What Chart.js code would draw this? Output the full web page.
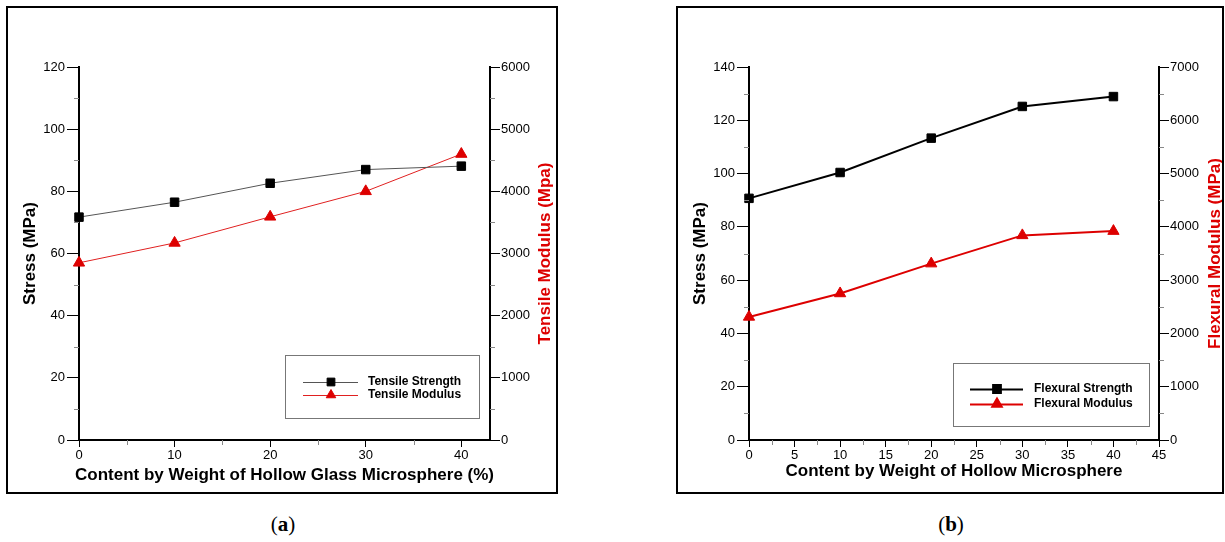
<!DOCTYPE html>
<html>
<head>
<meta charset="utf-8">
<script src="https://cdn.jsdelivr.net/npm/chart.js@4.4.1/dist/chart.umd.min.js"></script>
<style>
    body { margin: 0; background: #fff; width: 1225px; height: 542px; position: relative; overflow: hidden; }
    .frame { position: absolute; border: 2px solid #000; box-sizing: border-box; }
    canvas { position: absolute; }
    .cap { position: absolute; top: 512px; width: 60px; text-align: center; font-family: 'Liberation Serif', serif; font-size: 21px; color: #000; }
</style>
</head>
<body>
<div class="frame" style="left:6px; top:6px; width:552px; height:488px;"></div>
<div class="frame" style="left:676px; top:6px; width:548px; height:488px;"></div>
<canvas id="tensileChart" width="548" height="484" style="left:8px; top:8px;"></canvas>
<canvas id="flexuralChart" width="544" height="484" style="left:678px; top:8px;"></canvas>
<div class="cap" style="left:253px;">(<b>a</b>)</div>
<div class="cap" style="left:921px;">(<b>b</b>)</div>
<script>
// glass microsphere content (%)
const content = [0, 10, 20, 30, 40];

// (a) tensile test
const tensileStrength = [71.7, 76.5, 82.6, 87.0, 88.1];     // MPa, left axis
const tensileModulus = [2850, 3170, 3590, 4000, 4600];      // MPa, right axis

// (b) flexural test
const flexuralStrength = [90.7, 100.4, 113.3, 125.2, 128.9];
const flexuralModulus = [2310, 2750, 3310, 3840, 3920];

const RED = '#dd0000';
Chart.defaults.font.family = "'Liberation Sans', Arial, sans-serif";
Chart.defaults.font.size = 13;
Chart.defaults.color = '#000';

function toPoints(xs, ys) {
    return xs.map((x, i) => ({ x: x, y: ys[i] }));
}

// short grey ticks half way between the labelled ones
const minorTicks = {
    id: 'minorTicks',
    afterDraw(chart) {
        const ctx = chart.ctx;
        const area = chart.chartArea;
        ctx.save();
        ctx.strokeStyle = '#888';
        ctx.lineWidth = 1;
        Object.values(chart.scales).forEach(s => {
            const t = s.ticks;
            for (let i = 0; i < t.length - 1; i++) {
                const p = Math.round(s.getPixelForValue((t[i].value + t[i + 1].value) / 2)) + 0.5;
                ctx.beginPath();
                if (s.isHorizontal()) {
                    ctx.moveTo(p, area.bottom);
                    ctx.lineTo(p, area.bottom + 5);
                } else if (s.position === 'left') {
                    ctx.moveTo(area.left - 5, p);
                    ctx.lineTo(area.left, p);
                } else {
                    ctx.moveTo(area.right, p);
                    ctx.lineTo(area.right + 5, p);
                }
                ctx.stroke();
            }
        });
        ctx.restore();
    }
};

// axis titles, the right one reads bottom to top like the left one
const axisTitles = {
    id: 'axisTitles',
    afterDraw(chart, args, opts) {
        const ctx = chart.ctx;
        const area = chart.chartArea;
        ctx.save();
        ctx.font = "bold 17px 'Liberation Sans', Arial, sans-serif";
        ctx.textAlign = 'center';
        ctx.textBaseline = 'middle';
        const midY = (area.top + area.bottom) / 2;
        const sx = chart.scales.x, sy = chart.scales.y, sy1 = chart.scales.y1;

        ctx.fillStyle = '#000';
        ctx.fillText(sx.options.title.text, (area.left + area.right) / 2, opts.xTitleY);

        ctx.translate(opts.leftX, midY);
        ctx.rotate(-Math.PI / 2);
        ctx.fillText(sy.options.title.text, 0, 0);
        ctx.restore();

        ctx.save();
        ctx.font = "bold 17px 'Liberation Sans', Arial, sans-serif";
        ctx.textAlign = 'center';
        ctx.textBaseline = 'middle';
        ctx.fillStyle = sy1.options.title.color;
        ctx.translate(opts.rightX, midY);
        ctx.rotate(-Math.PI / 2);
        ctx.fillText(sy1.options.title.text, 0, 0);
        ctx.restore();
    }
};

// boxed legend sitting inside the plot
const boxLegend = {
    id: 'boxLegend',
    afterDraw(chart, args, opts) {
        const ctx = chart.ctx;
        const b = opts.box;
        ctx.save();
        ctx.strokeStyle = '#777';
        ctx.lineWidth = 1;
        ctx.strokeRect(b[0] + 0.5, b[1] + 0.5, b[2] - b[0], b[3] - b[1]);
        ctx.font = "bold 12px 'Liberation Sans', Arial, sans-serif";
        ctx.textBaseline = 'middle';
        chart.data.datasets.forEach((ds, i) => {
            const y = opts.rows[i];
            ctx.strokeStyle = ds.borderColor;
            ctx.lineWidth = ds.borderWidth;
            ctx.beginPath();
            ctx.moveTo(opts.line[0], Math.round(y) + 0.5);
            ctx.lineTo(opts.line[1], Math.round(y) + 0.5);
            ctx.stroke();
            ctx.fillStyle = ds.pointBackgroundColor;
            ctx.strokeStyle = ds.pointBackgroundColor;
            Chart.helpers.drawPoint(ctx, { pointStyle: ds.pointStyle, radius: 5.5, borderWidth: 1, rotation: 0 }, opts.marker, y);
            ctx.fillStyle = '#000';
            ctx.fillText(ds.label, opts.text, y);
        });
        ctx.restore();
    }
};

function numberLabel(v) {
    return String(v);
}

function makeChart(id, cfg) {
    return new Chart(document.getElementById(id), {
        type: 'line',
        data: {
            datasets: [{
                label: cfg.labels[0],
                data: toPoints(content, cfg.strength),
                yAxisID: 'y',
                borderColor: cfg.lineColors[0],
                borderWidth: cfg.lineWidth,
                pointStyle: 'rect',
                pointRadius: 6,
                pointBackgroundColor: '#000',
                pointBorderColor: '#000',
                pointBorderWidth: 1,
                clip: false
            }, {
                label: cfg.labels[1],
                data: toPoints(content, cfg.modulus),
                yAxisID: 'y1',
                borderColor: cfg.lineColors[1],
                borderWidth: cfg.lineWidth,
                pointStyle: 'triangle',
                pointRadius: 6.5,
                pointBackgroundColor: RED,
                pointBorderColor: RED,
                pointBorderWidth: 1,
                clip: false
            }]
        },
        options: {
            responsive: false,
            animation: false,
            layout: { padding: { top: 59, left: 0, right: 0, bottom: 0 } },
            plugins: {
                legend: { display: false },
                tooltip: { enabled: false },
                axisTitles: cfg.titlePos,
                boxLegend: cfg.legend
            },
            scales: {
                x: {
                    type: 'linear',
                    min: 0,
                    max: cfg.xMax,
                    title: { display: false, text: cfg.xTitle },
                    border: { color: '#000', width: 2 },
                    grid: { drawOnChartArea: false, tickLength: 7, tickColor: '#000', tickWidth: 1 },
                    ticks: { stepSize: cfg.xStep, includeBounds: false, padding: 1, maxRotation: 0, autoSkip: false, callback: numberLabel },
                    afterFit(s) { s.height = 52; }
                },
                y: {
                    position: 'left',
                    min: 0,
                    max: cfg.yMax,
                    title: { display: false, text: 'Stress (MPa)' },
                    border: { color: '#000', width: 2 },
                    grid: { drawOnChartArea: false, tickLength: 12, tickColor: '#000', tickWidth: 1 },
                    ticks: { stepSize: 20, padding: 2, callback: numberLabel },
                    afterFit(s) { s.width = 71; }
                },
                y1: {
                    position: 'right',
                    min: 0,
                    max: cfg.y1Max,
                    title: { display: false, text: cfg.y1Title, color: RED },
                    border: { color: '#000', width: 2 },
                    grid: { drawOnChartArea: false, tickLength: 10, tickColor: '#000', tickWidth: 1 },
                    ticks: { stepSize: 1000, padding: 1, callback: numberLabel },
                    afterFit(s) { s.width = cfg.y1Width; }
                }
            }
        },
        plugins: [minorTicks, axisTitles, boxLegend]
    });
}

makeChart('tensileChart', {
    labels: ['Tensile Strength', 'Tensile Modulus'],
    strength: tensileStrength,
    modulus: tensileModulus,
    lineColors: ['#555', '#e02020'],
    lineWidth: 1,
    xMax: 43,
    xStep: 10,
    yMax: 120,
    y1Max: 6000,
    y1Width: 66,
    xTitle: 'Content by Weight of Hollow Glass Microsphere (%)',
    y1Title: 'Tensile Modulus (Mpa)',
    titlePos: { xTitleY: 467, leftX: 22, rightX: 537 },
    legend: { box: [277, 347, 471, 410], line: [295, 350], marker: 323, text: 360, rows: [374, 387] }
});

makeChart('flexuralChart', {
    labels: ['Flexural Strength', 'Flexural Modulus'],
    strength: flexuralStrength,
    modulus: flexuralModulus,
    lineColors: ['#000', RED],
    lineWidth: 2,
    xMax: 45,
    xStep: 5,
    yMax: 140,
    y1Max: 7000,
    y1Width: 63,
    xTitle: 'Content by Weight of Hollow Microsphere',
    y1Title: 'Flexural Modulus (MPa)',
    titlePos: { xTitleY: 463, leftX: 22, rightX: 537 },
    legend: { box: [275, 355, 471, 418], line: [292, 345], marker: 319, text: 356, rows: [381, 396] }
});
</script>
</body>
</html>
